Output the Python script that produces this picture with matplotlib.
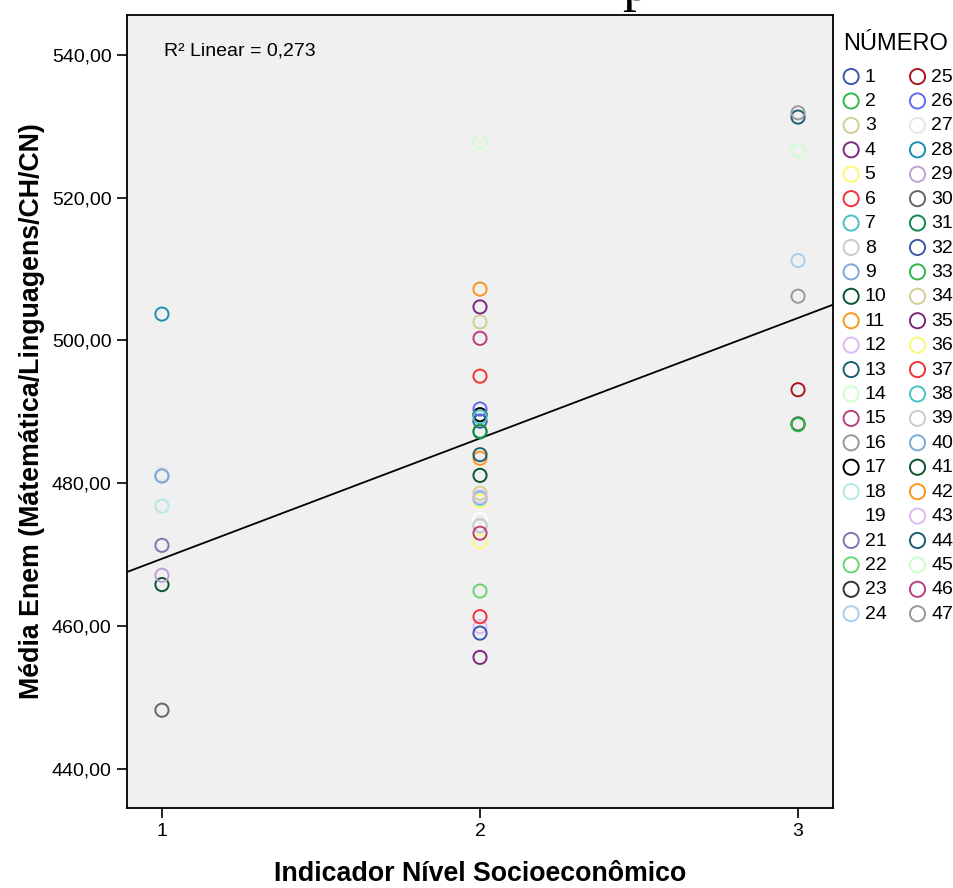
import numpy as np
import matplotlib
matplotlib.use("Agg")
from matplotlib import pyplot as plt

# school number, socioeconomic indicator, mean Enem score
numero = [1, 2, 3, 4, 5, 6, 7, 8, 9, 10, 11, 12, 13, 14, 15, 16, 17, 18, 19,
          21, 22, 23, 24, 25, 26, 27, 28, 29, 30, 31, 32, 33, 34, 35, 36, 37,
          38, 39, 40, 41, 42, 43, 44, 45, 46, 47]
nivel = [2, 2, 2, 2, 2, 2, 2, 2, 1, 1, 2, 2, 3, 3, 2, 3, 2, 1, 2,
         1, 2, 3, 3, 3, 2, 1, 1, 1, 1, 2, 2, 3, 2, 2, 2, 2,
         2, 2, 1, 2, 2, 2, 2, 2, 2, 3]
media = [488.7, 487.3, 502.6, 504.7, 477.5, 495.0, 477.9, 474.0, 481.1, 465.8,
         507.2, 459.9, 531.3, 526.6, 500.3, 506.2, 489.6, 476.8, 474.9,
         471.3, 464.9, 488.3, 511.2, 493.1, 490.4, 481.3, 503.7, 467.1, 448.2,
         487.2, 459.0, 488.2, 478.6, 455.6, 471.8, 461.3, 489.3, 474.1, 481.0,
         481.1, 483.5, 478.1, 484.0, 527.8, 473.0, 531.9]

# SPSS default colour cycle (32..47 repeat 1..16)
cores = ["#3e58ac", "#2eb848", "#d3ce97", "#7c287d", "#fbf873", "#ef3338",
         "#48c2c5", "#cccccc", "#7aaad5", "#0a562c", "#f8981d", "#ddb9f6",
         "#1a5f76", "#ccffcc", "#bb3f7f", "#999999", "#000000", "#b6e7e8",
         "#ffffff", "#7a78b0", "#65d573", "#333333", "#a9cff0", "#a8171c",
         "#5f6bf2", "#e6e6e6", "#1c8db5", "#bfa2d5", "#666666", "#14874a"]
cores = cores + cores[:16]

r2_texto = "R² Linear = 0,273"
yticks = [440, 460, 480, 500, 520, 540]

plt.rcParams['font.family'] = ['Liberation Sans', 'DejaVu Sans']

fig = plt.figure(figsize=(9.54, 8.88), dpi=100)
ax = fig.add_axes([0.1331, 0.0901, 0.7401, 0.8930])
ax.set_facecolor("#f0f0f0")

for n, x, y, c in zip(numero, nivel, media, cores):
    ax.scatter(x, y, s=90, facecolors="none", edgecolors=c, linewidths=1.4,
               label=str(n), zorder=3)

# linear fit through all points
slope, intercept = np.polyfit(nivel, media, 1)
xs = np.array([0.89, 3.11])
ax.plot(xs, intercept + slope * xs, color="black", lw=1.3, zorder=2)

ax.set_xlim(0.89, 3.11)
ax.set_ylim(434.5, 545.6)
ax.set_xticks([1, 2, 3])
ax.set_yticks(yticks)
ax.set_yticklabels([f"{v:.2f}".replace(".", ",") for v in yticks])
ax.tick_params(direction="out", length=7, width=1.2, labelsize=14, pad=4)
for sp in ax.spines.values():
    sp.set_linewidth(1.3)

ax.set_xlabel("Indicador Nível Socioeconômico", fontsize=19.3,
              fontweight="bold", labelpad=15)
ax.set_ylabel("Média Enem (Mátemática/Linguagens/CH/CN)", fontsize=19.3,
              fontweight="bold", labelpad=5)

ax.text(0.053, 0.955, r2_texto, transform=ax.transAxes, fontsize=14,
        va="center", ha="left")

leg = ax.legend(ncol=2, loc="upper left", bbox_to_anchor=(0.884, 0.963),
                bbox_transform=fig.transFigure, frameon=False,
                title="NÚMERO", title_fontsize=17, fontsize=14,
                markerscale=1.15,
                handlelength=0.8, handletextpad=0.3, columnspacing=1.19,
                labelspacing=0.35, borderaxespad=0, borderpad=0)
leg._legend_box.align = "left"
leg._legend_box.sep = 9.5  # extra gap under the legend title

# cut-off title glyph at the top edge
fig.text(0.652, 1.0, "p", family="Liberation Serif", fontsize=40,
         va="baseline", ha="left")

fig.savefig("out.png", dpi=100)
